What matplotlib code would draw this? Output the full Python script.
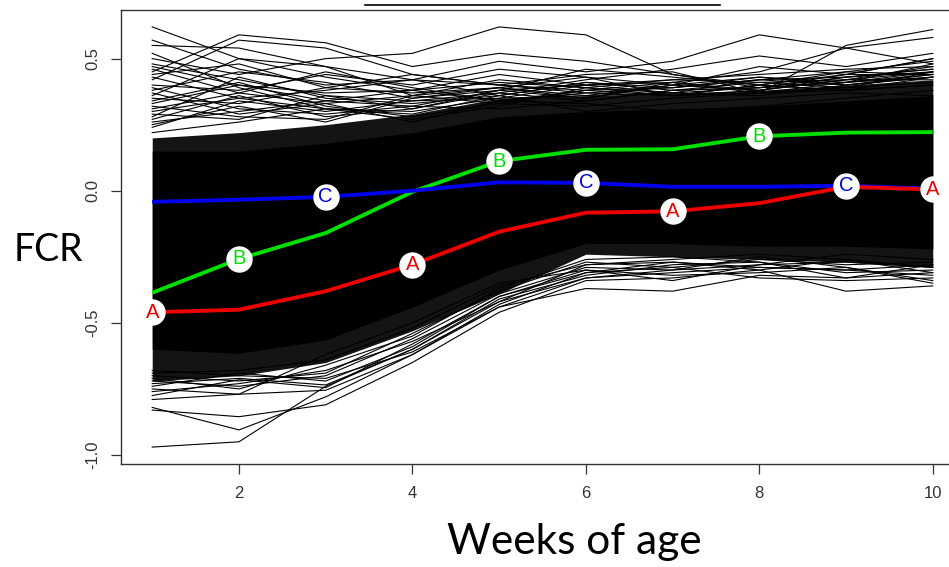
import matplotlib
matplotlib.use("Agg")
import matplotlib.pyplot as plt
from matplotlib.lines import Line2D

weeks = [1, 2, 3, 4, 5, 6, 7, 8, 9, 10]

# mean curves of the three groups
fcr_A = [-0.46, -0.45, -0.38, -0.28, -0.155, -0.083, -0.078, -0.047, 0.015, 0.005]
fcr_B = [-0.386, -0.258, -0.16, -0.004, 0.112, 0.155, 0.157, 0.206, 0.22, 0.222]
fcr_C = [-0.042, -0.034, -0.023, 0.0, 0.032, 0.030, 0.015, 0.015, 0.019, 0.008]
label_weeks_A = [1, 4, 7, 10]
label_weeks_B = [2, 5, 8]
label_weeks_C = [3, 6, 9]

# dense mass of individual curves (envelopes)
dense_upper = [0.15, 0.15, 0.18, 0.22, 0.28, 0.30, 0.31, 0.32, 0.34, 0.36]
dense_lower = [-0.60, -0.615, -0.565, -0.44, -0.30, -0.20, -0.20, -0.21, -0.21, -0.22]
semi_upper = [0.20, 0.22, 0.25, 0.29, 0.35, 0.36, 0.37, 0.38, 0.40, 0.42]
semi_lower = [-0.72, -0.70, -0.65, -0.53, -0.39, -0.24, -0.25, -0.26, -0.27, -0.29]

# individual outlying curves
upper_curves = [
    [0.62, 0.50, 0.43, 0.38, 0.34, 0.33, 0.30, 0.32, 0.35, 0.38],
    [0.45, 0.59, 0.56, 0.47, 0.52, 0.49, 0.44, 0.40, 0.38, 0.40],
    [0.42, 0.57, 0.54, 0.44, 0.40, 0.38, 0.36, 0.37, 0.39, 0.41],
    [0.55, 0.54, 0.47, 0.36, 0.33, 0.32, 0.35, 0.37, 0.38, 0.40],
    [0.57, 0.46, 0.40, 0.42, 0.36, 0.30, 0.33, 0.35, 0.37, 0.36],
    [0.50, 0.44, 0.50, 0.52, 0.62, 0.59, 0.44, 0.39, 0.41, 0.43],
    [0.36, 0.50, 0.47, 0.42, 0.49, 0.45, 0.49, 0.59, 0.54, 0.48],
    [0.30, 0.35, 0.38, 0.42, 0.40, 0.44, 0.45, 0.37, 0.55, 0.61],
    [0.33, 0.40, 0.37, 0.38, 0.44, 0.40, 0.41, 0.45, 0.54, 0.58],
    [0.48, 0.42, 0.36, 0.34, 0.37, 0.42, 0.46, 0.51, 0.47, 0.52],
    [0.40, 0.38, 0.44, 0.40, 0.46, 0.43, 0.40, 0.47, 0.44, 0.50],
    [0.46, 0.37, 0.33, 0.36, 0.42, 0.39, 0.42, 0.44, 0.46, 0.47],
    [0.38, 0.45, 0.41, 0.35, 0.38, 0.46, 0.43, 0.40, 0.45, 0.49],
    [0.35, 0.33, 0.39, 0.44, 0.40, 0.37, 0.39, 0.42, 0.43, 0.46],
    [0.28, 0.43, 0.35, 0.33, 0.36, 0.41, 0.38, 0.41, 0.42, 0.45],
    [0.52, 0.39, 0.31, 0.30, 0.35, 0.36, 0.37, 0.39, 0.41, 0.44],
    [0.44, 0.48, 0.39, 0.37, 0.39, 0.35, 0.40, 0.43, 0.40, 0.43],
    [0.31, 0.37, 0.45, 0.39, 0.34, 0.38, 0.41, 0.38, 0.42, 0.42],
    [0.26, 0.30, 0.34, 0.38, 0.41, 0.39, 0.36, 0.40, 0.44, 0.44],
    [0.39, 0.31, 0.29, 0.32, 0.38, 0.40, 0.42, 0.41, 0.39, 0.45],
    [0.34, 0.41, 0.32, 0.28, 0.33, 0.38, 0.39, 0.43, 0.41, 0.48],
    [0.29, 0.27, 0.36, 0.31, 0.37, 0.34, 0.38, 0.39, 0.43, 0.46],
    [0.24, 0.34, 0.30, 0.34, 0.35, 0.40, 0.37, 0.36, 0.40, 0.43],
    [0.32, 0.28, 0.27, 0.36, 0.39, 0.36, 0.40, 0.38, 0.42, 0.47],
    [0.43, 0.35, 0.31, 0.29, 0.36, 0.41, 0.39, 0.42, 0.45, 0.44],
    [0.37, 0.29, 0.33, 0.26, 0.34, 0.37, 0.36, 0.40, 0.38, 0.43],
    [0.27, 0.36, 0.28, 0.31, 0.38, 0.35, 0.41, 0.37, 0.41, 0.45],
    [0.22, 0.26, 0.31, 0.27, 0.32, 0.39, 0.37, 0.42, 0.40, 0.44],
    [0.47, 0.40, 0.34, 0.32, 0.31, 0.34, 0.38, 0.39, 0.44, 0.50],
    [0.25, 0.32, 0.26, 0.35, 0.39, 0.43, 0.36, 0.38, 0.43, 0.45],
]
lower_curves = [
    [-0.97, -0.95, -0.74, -0.60, -0.42, -0.33, -0.31, -0.29, -0.30, -0.32],
    [-0.82, -0.905, -0.78, -0.62, -0.44, -0.37, -0.38, -0.32, -0.33, -0.31],
    [-0.83, -0.855, -0.81, -0.65, -0.46, -0.34, -0.33, -0.30, -0.38, -0.36],
    [-0.79, -0.77, -0.755, -0.62, -0.43, -0.31, -0.29, -0.33, -0.34, -0.33],
    [-0.775, -0.715, -0.745, -0.58, -0.40, -0.30, -0.32, -0.31, -0.29, -0.34],
    [-0.73, -0.71, -0.735, -0.60, -0.41, -0.32, -0.28, -0.27, -0.31, -0.30],
    [-0.72, -0.74, -0.70, -0.56, -0.39, -0.29, -0.30, -0.28, -0.27, -0.29],
    [-0.76, -0.73, -0.68, -0.57, -0.42, -0.28, -0.27, -0.29, -0.30, -0.28],
    [-0.70, -0.72, -0.69, -0.54, -0.38, -0.27, -0.29, -0.26, -0.28, -0.27],
    [-0.74, -0.69, -0.72, -0.59, -0.40, -0.31, -0.27, -0.30, -0.26, -0.31],
    [-0.71, -0.75, -0.66, -0.55, -0.37, -0.26, -0.25, -0.27, -0.33, -0.28],
    [-0.68, -0.70, -0.71, -0.61, -0.44, -0.33, -0.30, -0.25, -0.29, -0.35],
    [-0.69, -0.68, -0.64, -0.52, -0.36, -0.28, -0.26, -0.24, -0.26, -0.29],
    [-0.75, -0.77, -0.62, -0.50, -0.35, -0.30, -0.34, -0.28, -0.24, -0.26],
]

x_ticks = [2, 4, 6, 8, 10]
y_ticks = [-1.0, -0.5, 0.0, 0.5]
y_ticklabels = ["-1.0", "-0.5", "0.0", "0.5"]

plt.rcParams['font.family'] = ['Liberation Sans', 'DejaVu Sans']

fig = plt.figure(figsize=(9.49, 5.67), dpi=100)
ax = fig.add_axes([121 / 949, 103 / 567, 843 / 949, 454 / 567])
ax.set_xlim(0.64, 10.36)
ax.set_ylim(-1.034, 0.684)

# spaghetti
ax.fill_between(weeks, semi_lower, semi_upper, color='#141414', lw=0, zorder=1)
ax.fill_between(weeks, dense_lower, dense_upper, color='black', lw=0, zorder=1.5)
for c in upper_curves + lower_curves:
    ax.plot(weeks, c, color='black', lw=0.8, zorder=2)

# group curves
for vals, col in [(fcr_B, '#00e000'), (fcr_C, '#0000ee'), (fcr_A, '#ee0000')]:
    ax.plot(weeks, vals, color=col, lw=2.8, zorder=3, solid_capstyle='butt')

for vals, lw_, col, letter in [(fcr_A, label_weeks_A, '#ee0000', 'A'),
                               (fcr_B, label_weeks_B, '#00dd00', 'B'),
                               (fcr_C, label_weeks_C, '#0000dd', 'C')]:
    for w in lw_:
        y = vals[weeks.index(w)]
        ax.plot([w], [y], marker='o', ms=18, mfc='white', mec='white', zorder=4)
        ax.text(w, y, letter, color=col, fontsize=14.5, ha='center', va='center',
                zorder=5, family='Liberation Sans')

# axes styling (R-like)
for s in ['top', 'left', 'bottom']:
    ax.spines[s].set_color('#333333')
    ax.spines[s].set_linewidth(1.0)
ax.spines['right'].set_visible(False)
ax.set_xticks(x_ticks)
ax.set_xticklabels([str(v) for v in x_ticks])
ax.set_yticks(y_ticks)
ax.set_yticklabels(y_ticklabels, rotation=90, va='center')
ax.tick_params(axis='both', length=7, width=0.9, color='#333333',
               labelcolor='#333333', labelsize=12)
ax.tick_params(axis='x', pad=9)
ax.tick_params(axis='y', pad=8)

# axis titles
fig.text(14 / 949, 1 - 250 / 567, "FCR", fontsize=27, family='Lato',
         ha='left', va='center', color='black')
fig.text(574 / 949, 1 - 542 / 567, "Weeks of age", fontsize=30.5, family='Lato',
         ha='center', va='center', color='black')

# partial line at top
fig.add_artist(Line2D([365 / 949, 720 / 949], [1 - 5 / 567, 1 - 5 / 567],
                      color='black', lw=1.2, transform=fig.transFigure))

fig.savefig("out.png", dpi=100)
